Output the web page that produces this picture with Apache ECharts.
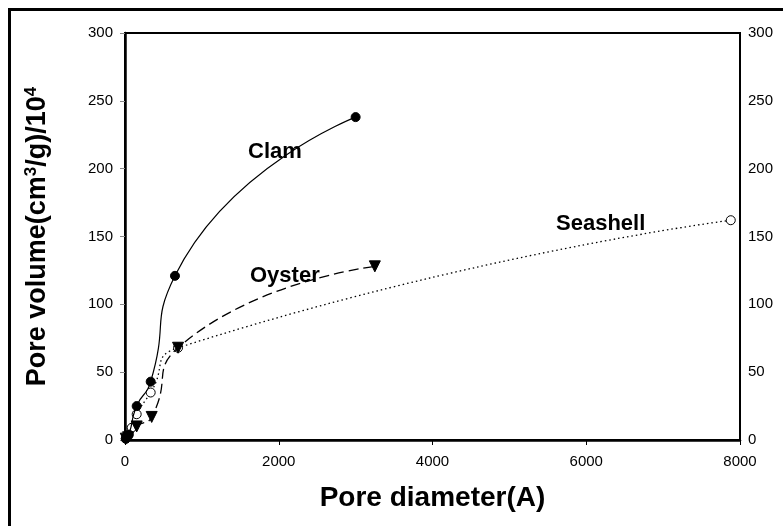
<!DOCTYPE html>
<html><head><meta charset="utf-8">
<script src="https://cdn.jsdelivr.net/npm/echarts@6/dist/echarts.min.js"></script>
<style>html,body{margin:0;padding:0;background:#fff}#c{width:783px;height:526px}</style>
</head><body><div id="c"></div>
<script>
// Data
var clamX = [10, 50, 152, 334, 650, 3000];
var clamY = [1, 4, 25, 43, 121, 238];
var oysterX = [10, 40, 152, 347, 690, 3250];
var oysterY = [1, 2, 10, 17, 68, 128];
var seashellX = [10, 40, 87, 152, 334, 690, 7880];
var seashellY = [1, 3, 9, 19, 35, 68, 162];
var xTicks = [0, 2000, 4000, 6000, 8000];
var yTicks = [0, 50, 100, 150, 200, 250, 300];

function pairs(xs, ys) { return xs.map(function (x, i) { return [x, ys[i]]; }); }

var font = 'Liberation Sans, Arial, sans-serif';
var chart = echarts.init(document.getElementById('c'));
var yAxisBase = {
  type: 'value', min: yTicks[0], max: yTicks[yTicks.length - 1], interval: 50,
  splitLine: { show: false },
  axisLine: { show: true, lineStyle: { color: '#000', width: 2 } },
  axisLabel: { color: '#000', fontSize: 15, fontFamily: font, margin: 12, formatter: function (v) { return String(v); } },
};
chart.setOption({
  animation: false,
  backgroundColor: '#fff',
  grid: { left: 125, right: 43, top: 33, bottom: 86, show: true, borderColor: '#000', borderWidth: 2 },
  xAxis: {
    type: 'value', min: xTicks[0], max: xTicks[xTicks.length - 1], interval: 2000,
    splitLine: { show: false },
    axisLine: { onZero: false, lineStyle: { color: '#000', width: 2.5 } },
    axisTick: { show: true, length: 5, lineStyle: { color: '#000' } },
    axisLabel: { color: '#000', fontSize: 15, fontFamily: font, margin: 14, formatter: function (v) { return String(v); } },
    name: 'Pore diameter(A)', nameLocation: 'middle', nameGap: 44,
    nameTextStyle: { color: '#000', fontSize: 28, fontWeight: 'bold', fontFamily: font }
  },
  yAxis: [
    Object.assign({}, yAxisBase, {
      position: 'left',
      axisLine: { show: true, lineStyle: { color: '#000', width: 2.5 } },
      axisTick: { show: true, length: 5, lineStyle: { color: '#888' } },
      name: 'Pore volume(cm{sup|3}/g)/10{sup|4}', nameLocation: 'middle', nameGap: 72, nameRotate: 90,
      nameTextStyle: { color: '#000', fontSize: 27, fontWeight: 'bold', fontFamily: font,
        rich: { sup: { fontSize: 17, fontWeight: 'bold', fontFamily: font, verticalAlign: 'top', lineHeight: 30, color: '#000' } } }
    }),
    Object.assign({}, yAxisBase, {
      position: 'right',
      axisTick: { show: false },
      axisLabel: { color: '#000', fontSize: 15, fontFamily: font, margin: 8 }
    })
  ],
  series: [
    { name: 'Clam', type: 'line', data: pairs(clamX, clamY), smooth: 0.6,
      lineStyle: { color: '#000', width: 1.2 }, symbol: 'circle', symbolSize: 9,
      itemStyle: { color: '#000', borderColor: '#000' }, z: 3 },
    { name: 'Oyster', type: 'line', data: pairs(oysterX, oysterY), smooth: 0.6,
      lineStyle: { color: '#000', width: 1.3, type: [10, 5] }, symbol: 'triangle', symbolRotate: 180, symbolSize: 11,
      itemStyle: { color: '#000', borderColor: '#000' }, z: 4 },
    { name: 'Seashell', type: 'line', data: pairs(seashellX, seashellY), smooth: 0.6,
      lineStyle: { color: '#000', width: 1.3, type: [1.5, 3] }, symbol: 'circle', symbolSize: 9,
      itemStyle: { color: '#fff', borderColor: '#000', borderWidth: 1 }, z: 2 }
  ],
  graphic: [
    { type: 'rect', shape: { x: 9.5, y: 9.5, width: 800, height: 540 }, style: { fill: 'none', stroke: '#000', lineWidth: 3 }, silent: true },
    { type: 'text', left: 248, top: 141, style: { text: 'Clam', font: 'bold 22px ' + font, fill: '#000' } },
    { type: 'text', left: 250, top: 265, style: { text: 'Oyster', font: 'bold 22px ' + font, fill: '#000' } },
    { type: 'text', left: 556, top: 213, style: { text: 'Seashell', font: 'bold 22px ' + font, fill: '#000' } }
  ]
});
</script></body></html>
